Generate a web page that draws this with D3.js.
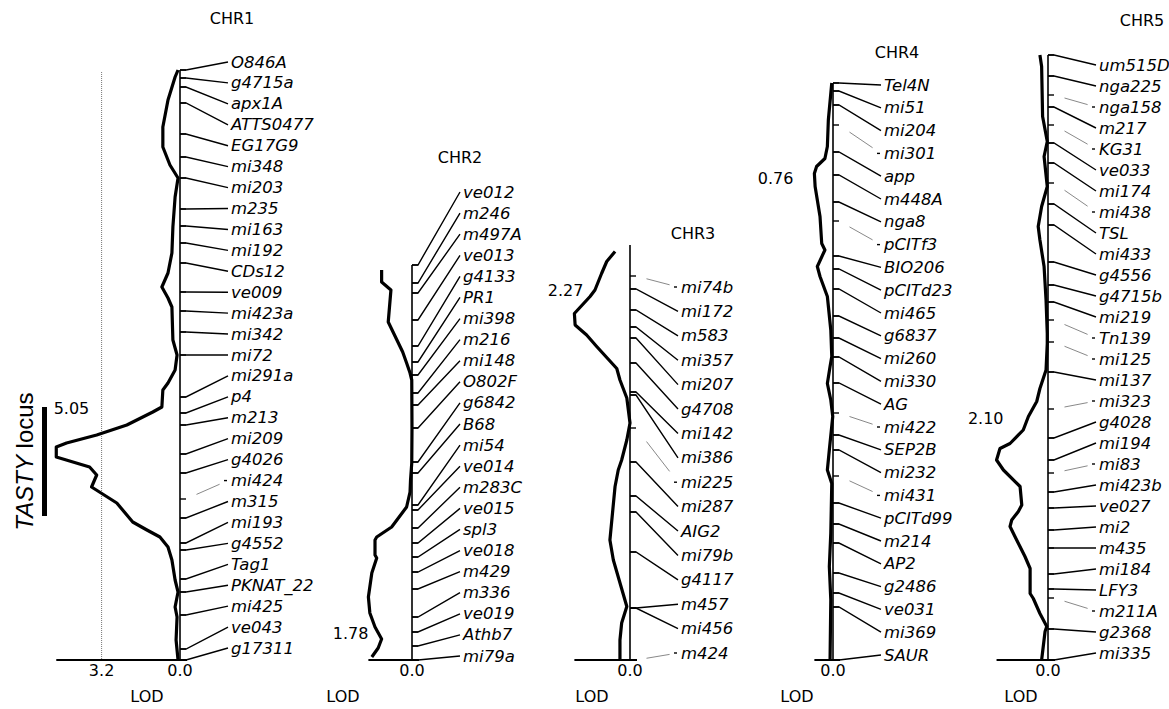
<!DOCTYPE html>
<html>
<head>
<meta charset="utf-8">
<title>TASTY locus - LOD profiles</title>
<script src="https://d3js.org/d3.v7.min.js"></script>
<style>
body { margin: 0; background: #fff; }
svg { display: block; }
.marker { font: italic 16.5px "DejaVu Sans", sans-serif; }
.title, .num { font: 16px "DejaVu Sans", sans-serif; }
.curve { fill: none; stroke: #000; stroke-width: 3.2px; stroke-linejoin: round; }
.chrom { stroke: #000; stroke-width: 1.6px; }
.base { stroke: #000; stroke-width: 2px; }
.link { fill: none; stroke: #000; stroke-width: 1.4px; }
.faint { fill: none; stroke: #555; stroke-width: 0.7px; }
</style>
</head>
<body>
<script>
// chromosome names, lengths (cM) and printed peak LODs
var chrNames = ["CHR1", "CHR2", "CHR3", "CHR4", "CHR5"];
var chrLengths = [118, 79, 83, 115.4, 121];
var peakLabels = ["5.05", "1.78", "2.27", "0.76", "2.10"];
var threshold = 3.2;

// markers (top to bottom) and their map positions in cM
var chr1Markers = ["O846A","g4715a","apx1A","ATTS0477","EG17G9","mi348","mi203","m235","mi163","mi192","CDs12","ve009","mi423a","mi342","mi72","mi291a","p4","m213","mi209","g4026","mi424","m315","mi193","g4552","Tag1","PKNAT_22","mi425","ve043","g17311"];
var chr1Pos = [0,1.6,3.4,6.6,12.8,17.4,21.6,27.8,31.2,34.6,38.6,44.4,48.2,52.4,57,65.4,68.6,71,76.8,80.6,85.8,89.6,94.6,96,101.8,104.4,109,115.8,118];
var chr2Markers = ["ve012","m246","m497A","ve013","g4133","PR1","mi398","m216","mi148","O802F","g6842","B68","mi54","ve014","m283C","ve015","spl3","ve018","m429","m336","ve019","Athb7","mi79a"];
var chr2Pos = [0,3.6,5.6,11,16.2,19.4,22,25.6,28,32.6,39.4,41.6,48,49,52.6,55.6,58.4,61.4,64.8,70.4,73.4,76.2,79];
var chr3Markers = ["mi74b","mi172","m583","mi357","mi207","g4708","mi142","mi386","mi225","mi287","AIG2","mi79b","g4117","m457","mi456","m424"];
var chr3Pos = [6.2,8.8,13,16.4,18.6,23.6,29.4,30,36.6,43.4,50.2,53.4,61.4,72.6,72.6,83];
var chr4Markers = ["Tel4N","mi51","mi204","mi301","app","m448A","nga8","pCITf3","BIO206","pCITd23","mi465","g6837","mi260","mi330","AG","mi422","SEP2B","mi232","mi431","pCITd99","m214","AP2","g2486","ve031","mi369","SAUR"];
var chr4Pos = [0,1.6,4.4,8.4,13.8,18.4,23.8,27.6,34.6,37.2,41.2,46.6,51,54.8,60,66,70.4,73.4,78.6,84,88.2,92,98,102,104.8,115.4];
var chr5Markers = ["um515D","nga225","nga158","m217","KG31","ve033","mi174","mi438","TSL","mi433","g4556","g4715b","mi219","Tn139","mi125","mi137","mi323","g4028","mi194","mi83","mi423b","ve027","mi2","m435","mi184","LFY3","m211A","g2368","mi335"];
var chr5Pos = [0,4.2,8,10.4,14,17.6,21.6,25.6,29.8,34,41.4,46,49.4,53,57.4,63.4,70.8,76.6,81,83.6,87.4,90.6,95,98.6,103.8,106.8,108.6,114.8,121];

// markers whose leader lines are faint in the figure
var faintLinks = ["mi424","mi74b","mi225","m424","mi301","pCITf3","mi422","mi431","nga158","KG31","mi438","Tn139","mi125","mi323","mi83","m211A"];

// LOD profiles: position (cM) and LOD
var chr1CurveCM = [0,1.4,6,11.4,15.4,19,21.6,25.4,31.4,36.6,40.6,43.4,45.6,47.4,54,57,60,62.6,64,67.4,68.4,71,73,74.6,75.4,77.4,79.4,81,83.4,86.6,90.4,92,93.4,95.4,98,102,104.4,107.4,109.4,114,118];
var chr1CurveLod = [0.08,0.2,0.49,0.7,0.7,0.41,0.08,0.2,0.29,0.33,0.49,0.74,0.49,0.33,0.29,0.12,0.2,0.49,0.7,0.74,1.11,2.17,3.4,4.63,5.05,5.05,3.69,3.4,3.61,2.58,1.93,1.35,0.82,0.49,0.33,0.2,0.08,0.2,0.12,0.16,0.08];
var chr2CurveCM = [1,3.4,5,11.4,17.4,19.6,21.6,23,32.6,39.6,43,45.4,48.4,52.4,54.4,55,58,58.6,61.6,66.4,69.6,72.4,74.8,76.6,78.4];
var chr2CurveLod = [1.24,1.24,0.86,0.97,0.38,0.22,0.08,0.01,0,0.01,0.06,0.08,0.22,0.83,1.44,1.51,1.51,1.44,1.64,1.78,1.72,1.51,1.24,1.38,1.64];
var chr3CurveCM = [1.3,3.3,5.7,9,10.3,13.7,16,18,20.3,24.7,27,30.6,35.6,39,43,45,48.3,59,63,72.3,75.6,79,83];
var chr3CurveLod = [0.61,0.95,1.16,1.43,1.63,2.27,2.24,1.77,1.36,0.54,0.41,0.13,0,0.13,0.34,0.48,0.61,0.82,0.68,0.13,0.34,0.41,0.41];
var chr4CurveCM = [0,7.4,12.7,15.1,16.7,18.1,20.7,26.7,32.1,33.4,36.7,38.7,42.7,49.4,54.7,56.7,60.1,63.4,66.7,73.4,77.4,80.1,90,96.7,103.4,115.4];
var chr4CurveLod = [0.05,0.19,0.23,0.33,0.67,0.76,0.73,0.53,0.46,0.33,0.64,0.53,0.23,0.09,0.05,0.12,0.23,0.09,0.01,0.15,0.23,0.05,0.09,0.15,0.09,0.12];
var chr5CurveCM = [0,2.3,12.3,17.3,20.3,26.3,30.3,34.3,37,42.3,49,55.7,57.7,63,66.7,69.3,72.3,75,77.7,78.7,81,83,86.3,90,91.3,93,94.3,96.3,100.3,102.7,107.7,108.7,111.7,114.3,115.3,121];
var chr5CurveLod = [0.33,0.26,0.22,0.03,0.16,0.03,0.26,0.4,0.33,0.16,0.08,0.03,0.03,0.08,0.33,0.46,0.8,1.01,1.55,1.96,2.10,1.82,1.14,1.07,1.21,1.48,1.55,1.35,0.94,0.73,0.73,0.6,0.33,0.05,0.12,0.26];

var markerLists = [chr1Markers, chr2Markers, chr3Markers, chr4Markers, chr5Markers];
var posLists = [chr1Pos, chr2Pos, chr3Pos, chr4Pos, chr5Pos];
var curveCMs = [chr1CurveCM, chr2CurveCM, chr3CurveCM, chr4CurveCM, chr5CurveCM];
var curveLods = [chr1CurveLod, chr2CurveLod, chr3CurveLod, chr4CurveLod, chr5CurveLod];

// layout (pixels)
var W = 1169, H = 709;
var axisX = [180, 412, 630, 833, 1048];
var labelSpan = [[62, 648], [192, 656], [287, 653], [85, 655], [65, 653]];
var titlePos = [[232, 18], [460, 157], [693, 233], [897, 52], [1142, 20]];
var lodTextDx = [-33, -69, -38, -36, -27];
var peakTextOff = [[33, -39], [0, 36], [9, -23], [-21, 5], [7, -42]];
var yBottom = 660, pxPerCM = 5, pxPerLod = 24.5;

var svg = d3.select("body").append("svg")
    .attr("width", W)
    .attr("height", H);

var maxLen = d3.max(chrLengths);
var yScale = d3.scaleLinear()
    .domain([0, maxLen])
    .range([yBottom - maxLen * pxPerCM, yBottom]);

chrNames.forEach(function(name, i) {
  var off = maxLen - chrLengths[i];
  var y = function(cm) { return yScale(cm + off); };
  var x = d3.scaleLinear().domain([0, 1]).range([axisX[i], axisX[i] - pxPerLod]);
  var x0 = axisX[i];
  var g = svg.append("g");

  var markers = markerLists[i].map(function(m, j) {
    return {name: m, pos: posLists[i][j]};
  });
  var labelY = d3.scalePoint()
      .domain(markers.map(function(d) { return d.name; }))
      .range(labelSpan[i]);
  var labelX = x0 + 51;

  // threshold line (chr1 only)
  if (i === 0) {
    g.append("line")
      .attr("x1", x(threshold)).attr("x2", x(threshold))
      .attr("y1", y(0) + 2).attr("y2", y(chrLengths[i]))
      .attr("stroke", "#777").attr("stroke-width", 1)
      .attr("stroke-dasharray", "1,1");
    g.append("text").attr("class", "num")
      .attr("x", x(threshold)).attr("y", 676)
      .attr("text-anchor", "middle").text(threshold.toFixed(1));
  }

  // chromosome (LOD = 0) line
  g.append("line").attr("class", "chrom")
    .attr("x1", x0).attr("x2", x0)
    .attr("y1", y(0)).attr("y2", y(chrLengths[i]));

  // baseline
  var maxLod = d3.max(curveLods[i]);
  g.append("line").attr("class", "base")
    .attr("x1", x(maxLod)).attr("x2", x0 + 7)
    .attr("y1", y(chrLengths[i])).attr("y2", y(chrLengths[i]));

  // ticks
  g.selectAll("line.tick").data(markers).join("line")
    .attr("class", "tick")
    .attr("stroke", "#000").attr("stroke-width", 1.4)
    .attr("x1", x0).attr("x2", x0 + 6)
    .attr("y1", function(d) { return y(d.pos); })
    .attr("y2", function(d) { return y(d.pos); });

  // leader lines
  markers.forEach(function(d) {
    var sx = x0 + 6, sy = y(d.pos);
    var ex = labelX - 3, ey = labelY(d.name);
    if (faintLinks.indexOf(d.name) >= 0) {
      var a = 0.25, b = 0.8;
      g.append("line").attr("class", "faint")
        .attr("x1", sx + (ex - sx) * a).attr("y1", sy + (ey - sy) * a)
        .attr("x2", sx + (ex - sx) * b).attr("y2", sy + (ey - sy) * b);
      g.append("line").attr("stroke", "#000").attr("stroke-width", 1.4)
        .attr("x1", ex - 4).attr("x2", ex - 1).attr("y1", ey).attr("y2", ey);
    } else {
      g.append("path").attr("class", "link")
        .attr("d", "M" + x0 + "," + sy + "H" + sx + "L" + ex + "," + ey);
    }
  });

  // marker labels
  g.selectAll("text.marker").data(markers).join("text")
    .attr("class", "marker")
    .attr("x", labelX)
    .attr("y", function(d) { return labelY(d.name); })
    .attr("dominant-baseline", "central")
    .text(function(d) { return d.name; });

  // LOD curve
  var pts = curveCMs[i].map(function(c, j) { return [c, curveLods[i][j]]; });
  g.append("path").attr("class", "curve")
    .attr("d", d3.line()
      .x(function(p) { return x(p[1]); })
      .y(function(p) { return y(p[0]); })(pts));

  // peak value
  var pk = pts[d3.maxIndex(pts, function(p) { return p[1]; })];
  g.append("text").attr("class", "num")
    .attr("x", x(pk[1]) + peakTextOff[i][0])
    .attr("y", y(pk[0]) + peakTextOff[i][1])
    .attr("text-anchor", "end")
    .attr("dominant-baseline", "central")
    .text(peakLabels[i]);

  // axis annotations
  g.append("text").attr("class", "num")
    .attr("x", x0).attr("y", 676)
    .attr("text-anchor", "middle").text("0.0");
  g.append("text").attr("class", "num")
    .attr("x", x0 + lodTextDx[i]).attr("y", 702)
    .attr("text-anchor", "middle").text("LOD");
  g.append("text").attr("class", "title")
    .attr("x", titlePos[i][0]).attr("y", titlePos[i][1])
    .attr("text-anchor", "middle")
    .attr("dominant-baseline", "central")
    .text(name);
});

// TASTY locus bar
var tastyCM = [67.4, 89.2];
var off1 = maxLen - chrLengths[0];
svg.append("line")
  .attr("x1", 44.5).attr("x2", 44.5)
  .attr("y1", yScale(tastyCM[0] + off1)).attr("y2", yScale(tastyCM[1] + off1))
  .attr("stroke", "#000").attr("stroke-width", 5);
var tt = svg.append("text")
  .attr("transform", "translate(33," + ((yScale(tastyCM[0] + off1) + yScale(tastyCM[1] + off1)) / 2) + ") rotate(-90)")
  .attr("text-anchor", "middle")
  .style("font", "24px 'Liberation Sans', Arial, sans-serif");
tt.append("tspan").style("font-style", "italic").text("TASTY");
tt.append("tspan").text(" locus");
</script>
</body>
</html>
